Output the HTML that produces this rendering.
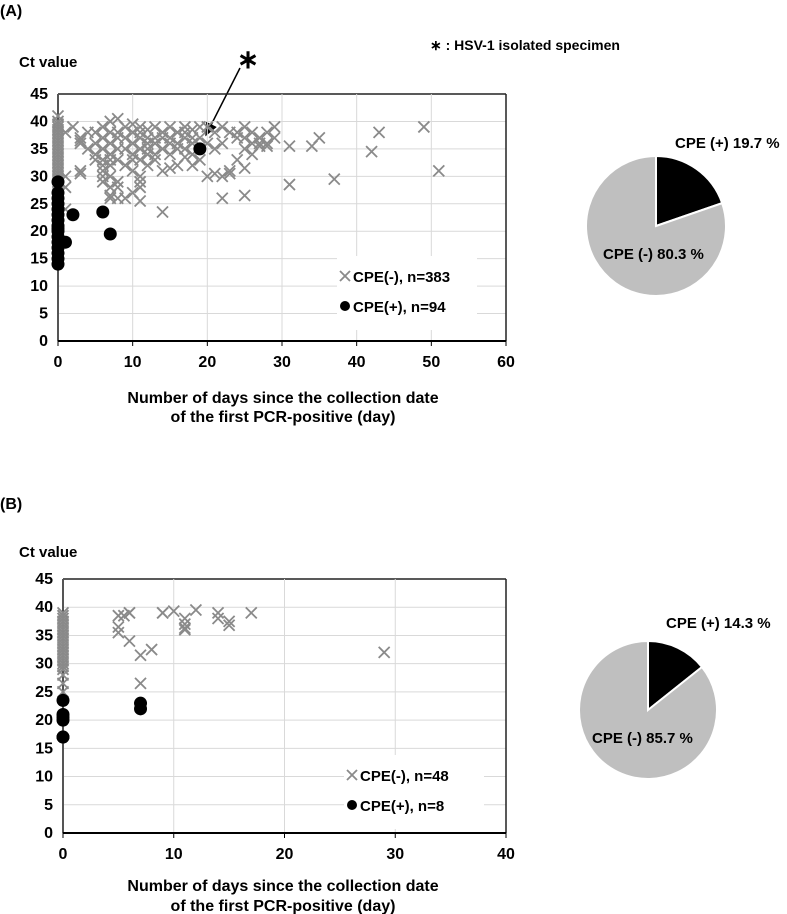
<!DOCTYPE html>
<html><head><meta charset="utf-8"><style>
html,body{margin:0;padding:0;background:#fff;}
svg{display:block;font-family:"Liberation Sans",Arial,sans-serif;font-weight:bold;}
</style></head><body>
<svg id="fig" width="787" height="914" viewBox="0 0 787 914" xmlns="http://www.w3.org/2000/svg">
<defs><marker id="ah" markerWidth="10" markerHeight="10" refX="8" refY="4" orient="auto"><path d="M0,0 L9,4 L0,8 Z" fill="#000"/></marker></defs>
<text x="0" y="16" font-size="16">(A)</text>
<text x="430" y="50" font-size="14">∗ : HSV-1 isolated specimen</text>
<text x="19" y="67" font-size="15">Ct value</text>
<text x="248" y="68" font-size="26" text-anchor="middle">∗</text>
<line x1="240" y1="68" x2="206" y2="135" stroke="#000" stroke-width="1.5" marker-end="url(#ah)"/>
<text x="283" y="403" font-size="16" text-anchor="middle">Number of days since the collection date</text>
<text x="283" y="422" font-size="16" text-anchor="middle">of the first PCR-positive (day)</text>
<text x="0" y="509" font-size="16">(B)</text>
<text x="19" y="557" font-size="15">Ct value</text>
<text x="283" y="891" font-size="16" text-anchor="middle">Number of days since the collection date</text>
<text x="283" y="911" font-size="16" text-anchor="middle">of the first PCR-positive (day)</text>
<g id="gA"></g><g id="gB"></g><g id="pA"></g><g id="pB"></g>
</svg>
<script>
const yTicks=[0,5,10,15,20,25,30,35,40,45];
const xTicksA=[0,10,20,30,40,50,60];
const xTicksB=[0,10,20,30,40];
// Panel A CPE(-) crosses: days and Ct
const negDaysA=[0,0,0,0,0,0,0,0,0,0,0,0,0,0,0,0,0,0,0,0,0,0,0,0,0,0,0,0,0,0,0,0,0,1,1,1,1,2,3,3,3,3,3,4,4,5,5,5,5,6,6,6,6,6,6,6,6,7,7,7,7,7,7,7,7,7,7,8,8,8,8,8,8,8,8,9,9,9,9,9,10,10,10,10,10,10,10,11,11,11,11,11,11,11,11,11,12,12,12,12,12,12,13,13,13,13,13,14,14,14,14,14,15,15,15,15,15,16,16,16,16,17,17,17,17,17,18,18,18,18,18,19,19,19,20,20,20,21,21,21,22,22,22,22,23,23,23,24,24,24,25,25,25,25,25,26,26,26,27,27,27,28,28,28,29,29,31,31,34,35,37,42,43,49,51];
const negCtA=[41,40,39.5,39,38.5,38,37.5,37,36.5,36,35.5,35,34.5,34,33.5,33,32.5,32,31.5,31,30.5,30,29.5,29,28.5,28,27,26,25,24,23,22,21,38,28,24,30,39,37,36,31,30.5,36.5,35,38,33,34,38,36,39,37,35,33,31,30,29,32,40,38,36,34,33,32,30,28,26.5,26,40.5,38,37,35,33,29,28,26,39,37,35,32,26,39.5,38,36,34,33,31,27,39,38,37,35,33,30,29,28,25.5,38.5,37,36,35,34,32,39,37,36,34,33,38,37,35,31,23.5,39,37,36,34,31.5,38,36,35,32,39,38,37,35,33.5,38.5,37,36,34,32,39,37,33,39,36,30,38,35,30.5,39,36,30,26,38,31,30.5,38,37,33,39,37,35,31.5,26.5,38,36,34,37,36,35.5,38,36,35.5,39,37,35.5,28.5,35.5,37,29.5,34.5,38,39,31,39];
// Panel A CPE(+) dots
const posDaysA=[0,0,0,0,0,0,0,0,0,0,0,0,0,0,0,0,1,2,6,7,19];
const posCtA=[29,27,26,25,24,23,22,21,20.5,20,19,18,17,16,15,14,18,23,23.5,19.5,35];
// Panel B
const negDaysB=[0,0,0,0,0,0,0,0,0,0,0,0,0,0,0,0,0,0,0,0,0,0,0,0,5,5,5,5.5,6,6,6,7,7,8,9,9,10,11,11,11,11,12,14,14,15,15,17,29];
const negCtB=[39,38.5,38,37.5,37,36.5,36,35.5,35,34.5,34,33.5,33,32.5,32,31.5,31,30.5,30,29.5,29,28,26.5,25,38.5,36.5,35.5,38.5,39,39,34,31.5,26.5,32.5,39,39,39.3,38,37,36,36.3,39.5,39,38,37.5,36.8,39,32];
const posDaysB=[0,0,0,0,0,0,7,7];
const posCtB=[17,17,20,20.5,21,23.5,22,23];
const pieA=[19.7,80.3], pieB=[14.3,85.7];

const NS="http://www.w3.org/2000/svg";
function mk(p,t,a){const e=document.createElementNS(NS,t);for(const k in a)e.setAttribute(k,a[k]);p.appendChild(e);return e;}
function chart(g,x0,x1,xmax,y45,y0,xt,nd,nc,pd,pc,lx,ly,nN,nP){
  const sx=v=>x0+(x1-x0)*v/xmax, sy=v=>y0+(y45-y0)*v/45;
  yTicks.forEach(t=>{
    if(t>0){const l=mk(g,'line',{x1:x0,x2:x1,y1:sy(t),y2:sy(t),stroke:t==45?'#222':'#d9d9d9','stroke-width':t==45?1.5:1});
    
    }
    const tx=mk(g,'text',{x:x0-10,y:sy(t)+5,'font-size':16,'text-anchor':'end'});tx.textContent=t;
    
    
  });
  xt.forEach(t=>{
    if(t>0){const l=mk(g,'line',{x1:sx(t),x2:sx(t),y1:y45,y2:y0,stroke:t==xmax?'#222':'#d9d9d9','stroke-width':t==xmax?1.5:1});
    
    }
    const tk=mk(g,'line',{x1:sx(t),x2:sx(t),y1:y0,y2:y0+5,stroke:'#000'});
    
    
    const tx=mk(g,'text',{x:sx(t),y:y0+26,'font-size':16,'text-anchor':'middle'});tx.textContent=t;
    
    
  });
  const ax=mk(g,'line',{x1:x0,x2:x0,y1:y45,y2:y0,stroke:'#555','stroke-width':2});
  
  
  const bx=mk(g,'line',{x1:x0,x2:x1,y1:y0,y2:y0,stroke:'#000','stroke-width':2});
  
  
  const lb=mk(g,'rect',{x:lx,y:ly,width:140,height:74,fill:'#fff'});
  
  
  nd.forEach((d,i)=>{const cx=sx(d),cy=sy(nc[i]),s=5.5;
    const p=mk(g,'path',{d:`M${cx-s},${cy-s}L${cx+s},${cy+s}M${cx-s},${cy+s}L${cx+s},${cy-s}`,stroke:'#8a8a8a','stroke-width':1.8,fill:'none'});
    
    });
  pd.forEach((d,i)=>{const c=mk(g,'circle',{cx:sx(d),cy:sy(pc[i]),r:6.5,fill:'#000'});
    
    });
  const s=5,a=lx+8,b=ly+20;
  const lm=mk(g,'path',{d:`M${a-s},${b-s}L${a+s},${b+s}M${a-s},${b+s}L${a+s},${b-s}`,stroke:'#8a8a8a','stroke-width':1.8});
  
  
  const t1=mk(g,'text',{x:a+8,y:b+6,'font-size':15});t1.textContent=nN;
  
  
  const lc=mk(g,'circle',{cx:a,cy:b+30,r:5,fill:'#000'});
  
  
  const t2=mk(g,'text',{x:a+8,y:b+36,'font-size':15});t2.textContent=nP;
  
  
}
chart(document.getElementById('gA'),58,506,60,94,341,xTicksA,negDaysA,negCtA,posDaysA,posCtA,337,256,'CPE(-), n=383','CPE(+), n=94');
chart(document.getElementById('gB'),63,506,40,579,833,xTicksB,negDaysB,negCtB,posDaysB,posCtB,344,755,'CPE(-), n=48','CPE(+), n=8');
function pie(g,cx,cy,r,vals,l1,l1x,l1y,l2,l2x,l2y){
  const tot=vals[0]+vals[1];let a0=-Math.PI/2;
  const cols=['#000','#bfbfbf'];
  vals.forEach((v,i)=>{const a1=a0+2*Math.PI*v/tot,large=(a1-a0)>Math.PI?1:0;
    const p=mk(g,'path',{d:`M${cx},${cy}L${cx+r*Math.cos(a0)},${cy+r*Math.sin(a0)}A${r},${r} 0 ${large} 1 ${cx+r*Math.cos(a1)},${cy+r*Math.sin(a1)}Z`,fill:cols[i],stroke:'#fff','stroke-width':2});
    
    
    a0=a1;});
  const t1=mk(g,'text',{x:l1x,y:l1y,'font-size':15});t1.textContent=l1;
  
  
  const t2=mk(g,'text',{x:l2x,y:l2y,'font-size':15});t2.textContent=l2;
  
  
}
pie(document.getElementById('pA'),656,226,70,pieA,'CPE (+) '+pieA[0]+' %',675,148,'CPE (-) '+pieA[1]+' %',603,259);
pie(document.getElementById('pB'),648,710,69,pieB,'CPE (+) '+pieB[0]+' %',666,628,'CPE (-) '+pieB[1]+' %',592,743);
</script>
</body></html>
